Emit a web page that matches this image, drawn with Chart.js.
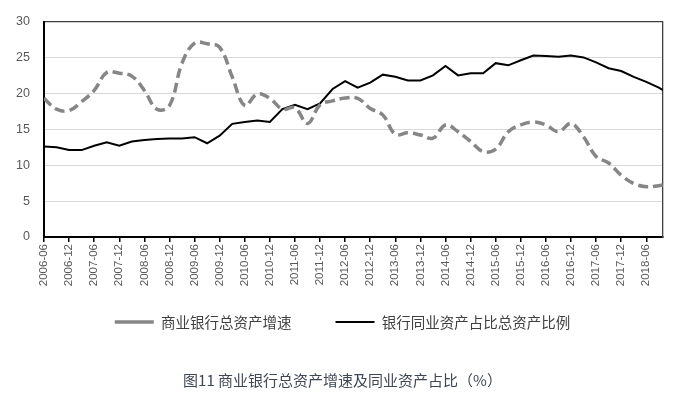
<!DOCTYPE html>
<html>
<head>
<meta charset="utf-8">
<script src="https://cdn.jsdelivr.net/npm/chart.js@4/dist/chart.umd.min.js"></script>
<style>
  html, body { margin: 0; padding: 0; background: #ffffff; }
  #wrap { width: 685px; height: 396px; position: relative; }
</style>
</head>
<body>
<div id="wrap"><canvas id="c" width="685" height="396"></canvas></div>
<script>
// ---- data ----
const periods = ['2006-06','2006-09','2006-12','2007-03','2007-06','2007-09','2007-12','2008-03','2008-06','2008-09','2008-12',
  '2009-03','2009-06','2009-09','2009-12','2010-03','2010-06','2010-09','2010-12','2011-03','2011-06','2011-09','2011-12',
  '2012-03','2012-06','2012-09','2012-12','2013-03','2013-06','2013-09','2013-12','2014-03','2014-06','2014-09','2014-12',
  '2015-03','2015-06','2015-09','2015-12','2016-03','2016-06','2016-09','2016-12','2017-03','2017-06','2017-09','2017-12',
  '2018-03','2018-06','2018-09','2018-10'];

const assetGrowth = [19.3,17.8,17.6,18.85,20.4,22.9,22.8,22.4,20.4,17.8,18.3,
  24.2,27.0,26.9,26.4,22.3,18.3,19.9,19.3,17.8,18.0,15.8,18.4,
  18.95,19.35,19.3,17.9,17.0,14.3,14.5,14.2,13.75,15.6,14.65,13.3,
  11.9,12.25,14.65,15.6,16.0,15.6,14.65,15.8,13.95,11.2,10.3,8.6,
  7.45,7.0,7.15,7.25];

const interbankShare = [12.6,12.5,12.1,12.1,12.7,13.2,12.7,13.3,13.5,13.65,13.7,
  13.7,13.9,13.05,14.1,15.75,16.0,16.2,16.0,17.8,18.4,17.8,18.6,
  20.6,21.7,20.8,21.5,22.6,22.3,21.8,21.8,22.5,23.8,22.5,22.8,
  22.8,24.2,23.9,24.6,25.25,25.2,25.1,25.25,25.0,24.3,23.5,23.1,
  22.3,21.6,20.8,20.45];

const seriesNames = ['商业银行总资产增速', '银行同业资产占比总资产比例'];
const captionText = '图11 商业银行总资产增速及同业资产占比（%）';
const yTicks = [0, 5, 10, 15, 20, 25, 30];

// ---- helpers ----
const START_Y = 2006, START_M = 6;
function monthIndex(s) {
  const [y, m] = s.split('-').map(Number);
  return (y - START_Y) * 12 + (m - START_M);
}
function monthLabel(v) {
  const total = START_Y * 12 + (START_M - 1) + v;
  const y = Math.floor(total / 12);
  const m = total % 12 + 1;
  return y + '-' + (m < 10 ? '0' + m : m);
}
const xs = periods.map(monthIndex);
const growthPts = xs.map((x, i) => ({ x, y: assetGrowth[i] }));
const sharePts = xs.map((x, i) => ({ x, y: interbankShare[i] }));

const numFont = 'Arial, "Liberation Sans", "Noto Sans CJK SC", sans-serif';
const cjkFont = '"Noto Sans CJK SC", "Microsoft YaHei", sans-serif';
const yMax = yTicks[yTicks.length - 1];

new Chart(document.getElementById('c'), {
  type: 'line',
  data: {
    datasets: [
      {
        label: seriesNames[0],
        data: growthPts,
        borderColor: '#868686',
        backgroundColor: '#868686',
        borderWidth: 3.5,
        borderDash: [10, 5],
        borderCapStyle: 'butt',
        pointRadius: 0,
        tension: 0.4,
        pointStyle: 'line'
      },
      {
        label: seriesNames[1],
        data: sharePts,
        borderColor: '#000000',
        backgroundColor: '#000000',
        borderWidth: 2,
        pointRadius: 0,
        tension: 0,
        pointStyle: 'line'
      }
    ]
  },
  options: {
    responsive: false,
    animation: false,
    devicePixelRatio: 1,
    layout: { padding: { top: 18, right: 0, left: 0, bottom: 0 } },
    plugins: {
      legend: {
        display: true,
        position: 'bottom',
        labels: {
          usePointStyle: true,
          pointStyleWidth: 39,
          padding: 44,
          color: '#404040',
          font: { family: cjkFont, size: 14.5 }
        }
      },
      title: {
        display: true,
        position: 'bottom',
        text: captionText,
        color: '#3e4753',
        font: { family: cjkFont, size: 15, weight: 'normal' },
        padding: { top: 31.75, bottom: 7 }
      },
      tooltip: { enabled: false }
    },
    scales: {
      x: {
        type: 'linear',
        min: 0,
        max: monthIndex(periods[periods.length - 1]),
        afterFit(s) { s.height = 33.75; s._computeLabelArea = () => undefined; },
        grid: { drawOnChartArea: false, drawTicks: true, tickLength: 5, color: '#000', lineWidth: 1.5 },
        border: { color: '#000', width: 2 },
        ticks: {
          stepSize: 6,
          includeBounds: false,
          autoSkip: false,
          minRotation: 90,
          maxRotation: 90,
          padding: 2,
          color: '#595959',
          font: { family: numFont, size: 11.5 },
          callback: (v) => monthLabel(v)
        }
      },
      y: {
        min: yTicks[0],
        max: yMax,
        afterFit(s) { s.width = 44; },
        afterBuildTicks(s) { s.ticks = yTicks.map(v => ({ value: v })); },
        grid: {
          color: (c) => (c.tick && c.tick.value === yMax ? '#3f3f3f' : '#d9d9d9'),
          lineWidth: (c) => (c.tick && c.tick.value === yMax ? 1.3 : 1),
          drawTicks: false
        },
        border: { color: '#000', width: 2 },
        ticks: {
          padding: 14,
          color: '#595959',
          font: { family: numFont, size: 12.5 }
        }
      },
      yRight: {
        position: 'right',
        min: yTicks[0],
        max: yMax,
        afterFit(s) { s.width = 22; },
        grid: { drawOnChartArea: false, drawTicks: false },
        border: { display: true, color: '#3f3f3f', width: 1.3 },
        ticks: { display: false }
      }
    }
  }
});
</script>
</body>
</html>
